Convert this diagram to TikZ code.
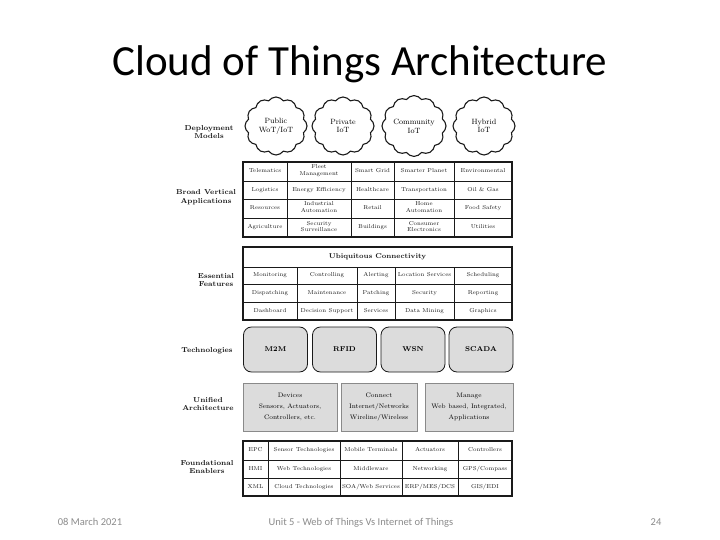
\documentclass[tikz,border=0pt]{standalone}
\usepackage{fontspec}
\newfontfamily\slidefont{Carlito}
\usetikzlibrary{shapes.symbols,shadows}
\definecolor{cotInk}{HTML}{1A1A1A}
\definecolor{cotFill}{HTML}{DCDCDC}
\definecolor{cotShade}{HTML}{8A8A8A}
\definecolor{cotFoot}{HTML}{8C8C8C}
\tikzset{
  cot title/.style={font=\slidefont\fontsize{43}{46}\selectfont, text=black, anchor=base},
  cot foot/.style={font=\slidefont\fontsize{10.5}{12}\selectfont, text=cotFoot, anchor=base},
  cot layer/.style={font=\fontsize{7.2}{8.6}\selectfont\bfseries, text=cotInk, align=center},
  cot cell/.style={font=\fontsize{5.7}{6.9}\selectfont, text=cotInk, align=center, inner sep=0pt,
    execute at begin node=\strut, execute at end node=\strut},
  cot head/.style={font=\fontsize{7}{8}\selectfont\bfseries, text=cotInk, inner sep=0pt,
    execute at begin node=\strut},
  cot frame/.style={draw=cotInk, line width=1.1pt},
  cot rule/.style={draw=cotInk, line width=0.7pt},
  cot cloud/.style={shape=cloud, draw=cotInk, line width=1.1pt, cloud puffs=12, cloud puff arc=110,
    aspect=1.07, minimum width=62pt, minimum height=58pt, inner sep=0pt,
    font=\fontsize{7.6}{8.8}\selectfont, align=center},
  cot tech/.style={draw=cotInk, fill=cotFill, line width=0.8pt, rounded corners=8pt,
    minimum width=64pt, minimum height=45pt, font=\fontsize{7}{8}\selectfont\bfseries},
  cot unit/.style={draw=cotShade, fill=cotFill, line width=0.6pt,
    drop shadow={shadow xshift=1.2pt, shadow yshift=-1.2pt, fill=cotShade, opacity=1},
    minimum height=48pt, inner sep=0pt, font=\fontsize{6.5}{11.3}\selectfont, align=center},
}
\begin{document}
\begin{tikzpicture}[x=1pt,y=-1pt]
  \useasboundingbox[fill=white] (0,0) rectangle (720,540);
  % title
  \node[cot title] (title) at (360,76) {Cloud of Things Architecture};

  % layer names on the left
  \node[cot layer] (lblDeploy) at (209,132) {Deployment\\Models};
  \node[cot layer] (lblVertical) at (206,197) {Broad Vertical\\Applications};
  \node[cot layer] (lblFeatures) at (216,280) {Essential\\Features};
  \node[cot layer] (lblTech) at (207,351) {Technologies};
  \node[cot layer] (lblUnified) at (208,404) {Unified\\Architecture};
  \node[cot layer] (lblEnablers) at (207,467) {Foundational\\Enablers};

  % deployment models
  \foreach \x/\nm/\t in {276/public/{Public\\WoT/IoT}, 343/private/{Private\\IoT},
      414/community/{Community\\IoT}, 484/hybrid/{Hybrid\\IoT}}
    \node[cot cloud] (cloud-\nm) at (\x,126) {\t};

  % broad vertical applications
  \draw[cot frame] (243,162) rectangle (512,237);
  \foreach \y in {181,199,218} \draw[cot rule] (243,\y) -- (512,\y);
  \foreach \x in {287,351,394,454} \draw[cot rule] (\x,162) -- (\x,237);
  \foreach \x/\t [count=\i] in {265/Telematics, 319/{Fleet\\Management}, 372.5/Smart Grid,
      424/Smarter Planet, 483/Environmental}
    \node[cot cell] (bva-1-\i) at (\x,171.5) {\t};
  \foreach \x/\t [count=\i] in {265/Logistics, 319/Energy Efficiency, 372.5/Healthcare,
      424/Transportation, 483/Oil \& Gas}
    \node[cot cell] (bva-2-\i) at (\x,190) {\t};
  \foreach \x/\t [count=\i] in {265/Resources, 319/{Industrial\\Automation}, 372.5/Retail,
      424/{Home\\Automation}, 483/Food Safety}
    \node[cot cell] (bva-3-\i) at (\x,208.5) {\t};
  \foreach \x/\t [count=\i] in {265/Agriculture, 319/{Security\\Surveillance}, 372.5/Buildings,
      424/{Consumer\\Electronics}, 483/Utilities}
    \node[cot cell] (bva-4-\i) at (\x,227.5) {\t};

  % essential features
  \draw[cot frame] (243,247) rectangle (512,320);
  \foreach \y in {267,284,302} \draw[cot rule] (243,\y) -- (512,\y);
  \foreach \x in {297,357,395,454} \draw[cot rule] (\x,267) -- (\x,320);
  \node[cot head] (ess-head) at (377.5,257) {Ubiquitous Connectivity};
  \foreach \x/\t [count=\i] in {270/Monitoring, 327/Controlling, 376/Alerting,
      424.5/Location Services, 483/Scheduling}
    \node[cot cell] (ess-1-\i) at (\x,275.5) {\t};
  \foreach \x/\t [count=\i] in {270/Dispatching, 327/Maintenance, 376/Patching,
      424.5/Security, 483/Reporting}
    \node[cot cell] (ess-2-\i) at (\x,293) {\t};
  \foreach \x/\t [count=\i] in {270/Dashboard, 327/Decision Support, 376/Services,
      424.5/Data Mining, 483/Graphics}
    \node[cot cell] (ess-3-\i) at (\x,311) {\t};

  % technologies
  \foreach \x/\t [count=\i] in {275.5/M2M, 344.5/RFID, 413/WSN, 481/SCADA}
    \node[cot tech] (tech-\i) at (\x,349.5) {\t};

  % unified architecture
  \node[cot unit, minimum width=94pt] (devices) at (290,407)
    {Devices\\Sensors, Actuators,\\Controllers, etc.};
  \node[cot unit, minimum width=76pt] (connect) at (379,407)
    {Connect\\Internet/Networks\\Wireline/Wireless};
  \node[cot unit, minimum width=88pt] (manage) at (469,407)
    {Manage\\Web based, Integrated,\\Applications};

  % foundational enablers
  \draw[cot frame] (243,441) rectangle (512,496);
  \foreach \y in {460,478} \draw[cot rule] (243,\y) -- (512,\y);
  \foreach \x in {268,340,402,458} \draw[cot rule] (\x,441) -- (\x,496);
  \foreach \x/\t [count=\i] in {255.5/EPC, 304/Sensor Technologies, 371/Mobile Terminals,
      430/Actuators, 485/Controllers}
    \node[cot cell] (fnd-1-\i) at (\x,450.5) {\t};
  \foreach \x/\t [count=\i] in {255.5/HMI, 304/Web Technologies, 371/Middleware,
      430/Networking, 485/{GPS/Compass}}
    \node[cot cell] (fnd-2-\i) at (\x,469) {\t};
  \foreach \x/\t [count=\i] in {255.5/XML, 304/Cloud Technologies, 371/{SOA/Web Services},
      430/{ERP/MES/DCS}, 485/{GIS/EDI}}
    \node[cot cell] (fnd-3-\i) at (\x,487) {\t};

  % footer
  \node[cot foot] (footDate) at (90,525) {08 March 2021};
  \node[cot foot] (footUnit) at (361,525) {Unit 5 - Web of Things Vs Internet of Things};
  \node[cot foot] (footPage) at (656,525) {24};
\end{tikzpicture}
\end{document}
